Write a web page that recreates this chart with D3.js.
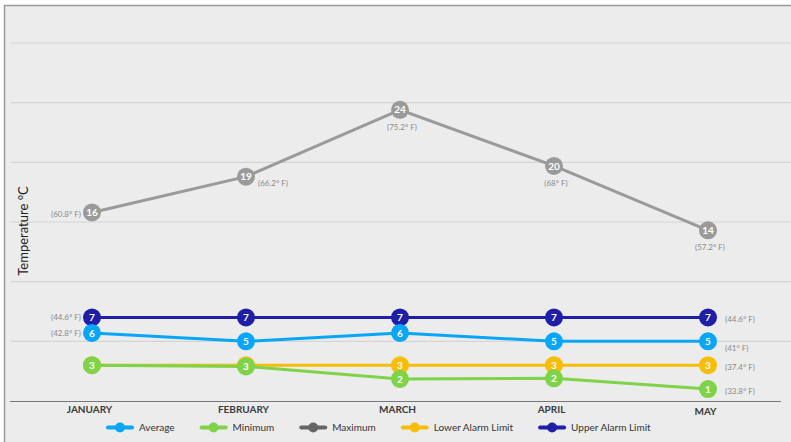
<!DOCTYPE html>
<meta charset="utf-8">
<style>
body { margin: 0; background: #fff; }
text { font-family: Lato, "Open Sans", sans-serif; }
</style>
<svg id="chart" width="791" height="442"></svg>
<script src="https://cdn.jsdelivr.net/npm/d3@7"></script>
<script>

// values (deg C)
var months = ["JANUARY", "FEBRUARY", "MARCH", "APRIL", "MAY"];
var average = [5.7, 5.0, 5.7, 5.0, 5.0];
var minimum = [3.0, 2.9, 1.85, 1.9, 1.0];
var maximum = [15.8, 18.8, 24.4, 19.7, 14.3];
var lowerAlarm = [3, 3, 3, 3, 3];
var upperAlarm = [7, 7, 7, 7, 7];
var gridTicks = [5, 10, 15, 20, 25, 30];

var series = [
	{ name: "Average", values: average, color: "#0aa6f6", icon: "#0aa6f6" },
	{ name: "Minimum", values: minimum, color: "#7ed348", icon: "#7ed348" },
	{ name: "Maximum", values: maximum, color: "#9a9a9a", icon: "#666666" },
	{ name: "Lower Alarm Limit", values: lowerAlarm, color: "#f6bd0b", icon: "#f6bd0b" },
	{ name: "Upper Alarm Limit", values: upperAlarm, color: "#1e1ea6", icon: "#1e1ea6" }
];

var svg = d3.select("#chart");

// frame
svg.append("rect")
	.attr("x", 4.5).attr("y", 5.5)
	.attr("width", 800).attr("height", 450)
	.attr("fill", "#ececec")
	.attr("stroke", "#9a9a9a")
	.attr("stroke-width", 1.5);

var x = d3.scalePoint().domain(months).range([92, 708]);
var y = d3.scaleLinear().domain([0, 30]).range([401, 43]);

// gridlines
svg.append("g").selectAll("line")
	.data(gridTicks)
	.enter().append("line")
		.attr("x1", 11).attr("x2", 791)
		.attr("y1", function(d) { return y(d); })
		.attr("y2", function(d) { return y(d); })
		.attr("stroke", "#d4d4d4")
		.attr("stroke-width", 1.2);

// x axis
var xAxis = svg.append("g")
	.attr("transform", "translate(0," + y(0) + ")")
	.call(d3.axisBottom(x).tickSize(0).tickPadding(4));
xAxis.select(".domain").attr("d", "M10,0.5H781").attr("stroke", "#777").attr("stroke-width", 1.2);
xAxis.selectAll(".tick text")
	.attr("font-family", "Lato, sans-serif")
	.attr("font-size", "10px")
	.attr("font-weight", "bold")
	.attr("fill", "#3a3a3a")
	.attr("dx", -3)
	.attr("dy", function(d, i) { return i === months.length - 1 ? "0.95em" : "0.75em"; });

// y title
svg.append("text")
	.attr("transform", "translate(28,231) rotate(-90)")
	.attr("text-anchor", "middle")
	.attr("font-size", "13px")
	.attr("fill", "#222")
	.text("Temperature \u00b0C");

var line = d3.line()
	.x(function(d, i) { return x(months[i]); })
	.y(function(d) { return y(d); });

function fahr(v) {
	return "(" + (Math.round(v) * 1.8 + 32).toFixed(1).replace(/\.0$/, "") + "\u00b0 F)";
}

// draw back to front: upper, lower, max, min, avg
var drawOrder = series.slice().reverse();

drawOrder.forEach(function(s) {
	var g = svg.append("g");
	g.append("path")
		.datum(s.values)
		.attr("d", line)
		.attr("fill", "none")
		.attr("stroke", s.color)
		.attr("stroke-width", 3);

	var pts = g.selectAll("g")
		.data(s.values)
		.enter().append("g")
		.attr("transform", function(d, i) { return "translate(" + x(months[i]) + "," + y(d) + ")"; });

	pts.append("circle")
		.attr("r", 9)
		.attr("fill", s.color);

	pts.append("text")
		.attr("text-anchor", "middle")
		.attr("dy", "0.36em")
		.attr("font-size", "10px")
		.attr("font-weight", "bold")
		.attr("fill", "#fff")
		.text(function(d) { return Math.round(d); });
});

// fahrenheit labels
var fLayer = svg.append("g")
	.attr("font-size", "8px")
	.attr("fill", "#8a8a8a");

series.forEach(function(s) {
	s.values.forEach(function(v, i) {
		var last = i === months.length - 1;
		var px = x(months[i]), py = y(v);
		var anchor, tx, ty;
		// hide when another series sits on the same value
		var clash = series.some(function(o) {
			return o !== s && Math.round(o.values[i]) === Math.round(v);
		});
		if (clash) return;
		if (s.name === "Maximum") {
			if (i === 0) { anchor = "end"; tx = px - 11; ty = py + 2; }
			else if (i === 1) { anchor = "start"; tx = px + 12; ty = py + 7; }
			else { anchor = "middle"; tx = px + 2; ty = py + 17; }
		} else {
			if (i === 0) { anchor = "end"; tx = px - 11; ty = py; }
			else if (last) {
				anchor = "start"; tx = px + 17;
				ty = py + (s.name === "Average" ? 7 : 2);
			}
			else return;
		}
		fLayer.append("text")
			.attr("x", tx).attr("y", ty)
			.attr("dy", "0.35em")
			.attr("text-anchor", anchor)
			.text(fahr(v));
	});
});

// legend
var legend = svg.append("g").attr("transform", "translate(0,427.5)");
var lx = 106;
series.forEach(function(s) {
	var item = legend.append("g").attr("transform", "translate(" + lx + ",0)");
	item.append("line")
		.attr("x1", 2).attr("x2", 26)
		.attr("stroke", s.icon)
		.attr("stroke-width", 4)
		.attr("stroke-linecap", "round");
	item.append("circle")
		.attr("cx", 14).attr("r", 5)
		.attr("fill", s.icon);
	var t = item.append("text")
		.attr("x", 33)
		.attr("dy", "0.35em")
		.attr("font-size", "10px")
		.attr("fill", "#333")
		.text(s.name);
	lx += 33 + t.node().getComputedTextLength() + 25;
});

</script>
